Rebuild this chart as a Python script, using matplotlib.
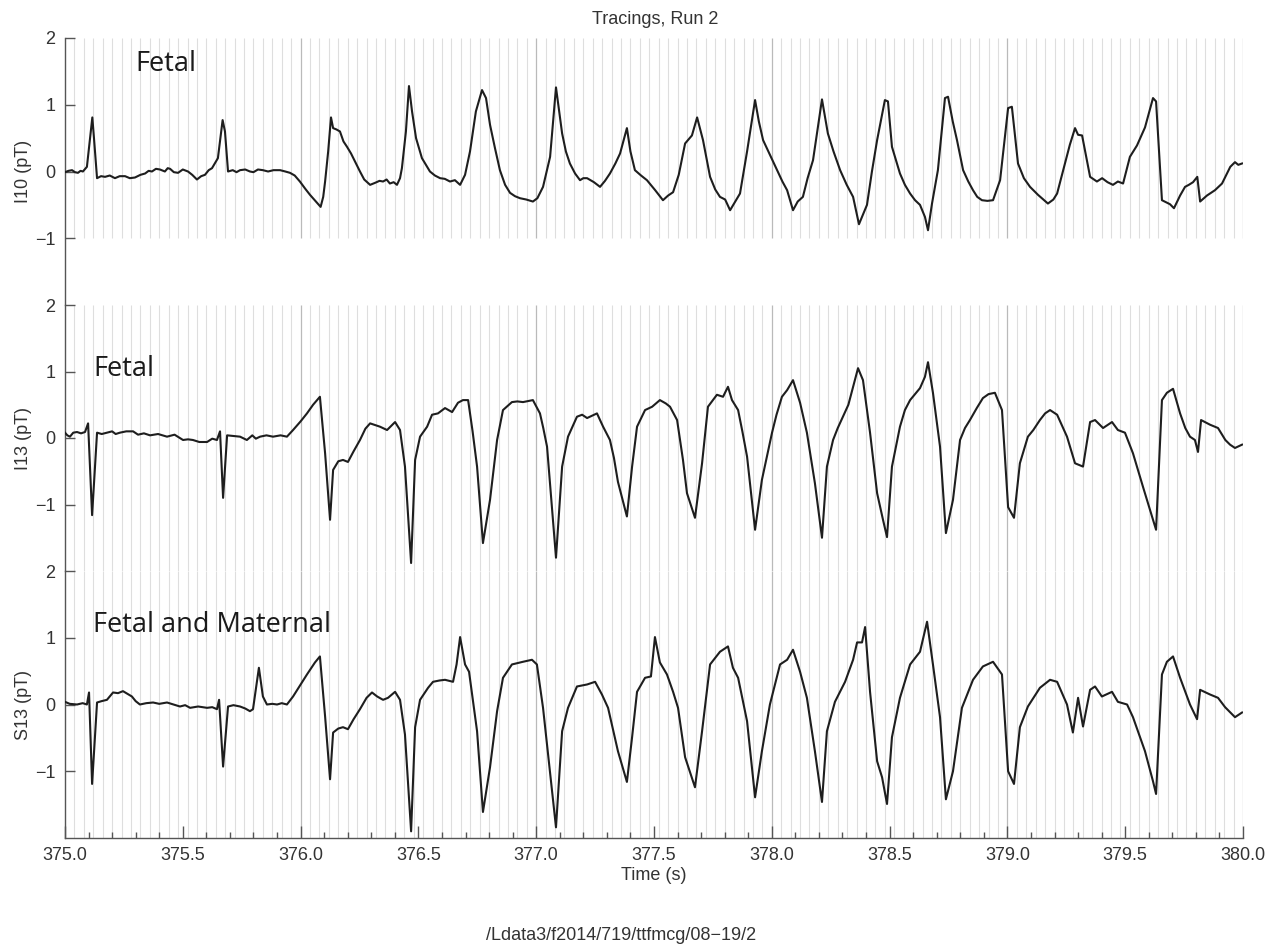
import matplotlib
matplotlib.use("Agg")
import matplotlib.pyplot as plt
from matplotlib.ticker import MultipleLocator, FormatStrFormatter
import numpy as np

plt.rcParams['font.family'] = ['Liberation Sans', 'DejaVu Sans']

# ---------------- data (time in s, field in pT) ----------------
I10_TRACE = [
    (375.000, -0.01), (375.015, 0.01), (375.030, 0.02), (375.042, -0.01), (375.055, -0.02),
    (375.066, 0.01), (375.076, 0.0), (375.086, 0.04), (375.093, 0.07),
    (375.116, 0.81), (375.123, 0.5), (375.136, -0.1), (375.153, -0.07), (375.170, -0.08),
    (375.190, -0.06), (375.212, -0.1), (375.232, -0.07), (375.255, -0.07), (375.275, -0.1),
    (375.297, -0.09), (375.320, -0.05), (375.340, -0.03), (375.355, 0.01), (375.369, 0.0),
    (375.386, 0.04), (375.403, 0.03), (375.424, 0.0), (375.436, 0.05), (375.446, 0.04),
    (375.462, -0.01), (375.480, -0.02), (375.500, 0.03), (375.522, 0.0), (375.540, -0.05),
    (375.560, -0.12), (375.578, -0.07),
    (375.594, -0.05), (375.610, 0.02), (375.624, 0.05), (375.649, 0.2), (375.669, 0.77),
    (375.679, 0.6), (375.692, 0.0), (375.712, 0.02), (375.728, -0.01), (375.743, 0.02),
    (375.765, 0.03), (375.785, 0.0), (375.800, -0.01), (375.819, 0.03), (375.840, 0.02),
    (375.862, 0.0), (375.885, 0.02), (375.913, 0.02), (375.935, 0.0), (375.955, -0.02),
    (375.975, -0.06), (375.997, -0.15), (376.020, -0.26), (376.040, -0.35), (376.065, -0.45),
    (376.085, -0.53), (376.096, -0.38), (376.104, -0.15), (376.117, 0.3), (376.129, 0.81),
    (376.138, 0.65), (376.152, 0.63), (376.167, 0.6), (376.182, 0.45), (376.197, 0.37),
    (376.214, 0.27), (376.231, 0.15), (376.252, 0.0), (376.270, -0.12), (376.295, -0.2),
    (376.316, -0.17), (376.335, -0.14), (376.350, -0.15), (376.365, -0.12), (376.379, -0.18),
    (376.395, -0.16), (376.409, -0.2), (376.422, -0.1), (376.430, 0.05),
    (376.447, 0.6), (376.460, 1.28), (376.473, 0.9), (376.490, 0.5), (376.515, 0.2),
    (376.549, 0.0), (376.570, -0.06), (376.592, -0.1), (376.612, -0.11), (376.634, -0.15),
    (376.655, -0.13), (376.677, -0.2), (376.698, -0.05),
    (376.719, 0.3), (376.744, 0.9), (376.770, 1.22), (376.787, 1.1), (376.804, 0.7),
    (376.825, 0.35), (376.846, 0.02), (376.868, -0.2), (376.889, -0.32), (376.910, -0.37),
    (376.931, -0.4), (376.958, -0.42), (376.986, -0.45), (377.005, -0.4),
    (377.029, -0.23), (377.059, 0.22), (377.084, 1.26), (377.110, 0.57), (377.126, 0.3),
    (377.143, 0.12), (377.165, -0.03),
    (377.186, -0.13), (377.200, -0.1), (377.216, -0.1), (377.245, -0.16), (377.271, -0.23),
    (377.292, -0.14), (377.313, -0.03), (377.336, 0.12), (377.356, 0.27),
    (377.385, 0.65), (377.400, 0.3), (377.419, 0.02), (377.445, -0.06), (377.470, -0.13),
    (377.505, -0.28), (377.538, -0.43), (377.560, -0.36), (377.581, -0.31), (377.605, -0.05),
    (377.632, 0.42), (377.661, 0.54), (377.683, 0.81), (377.708, 0.47), (377.738, -0.08),
    (377.760, -0.27), (377.780, -0.38), (377.802, -0.42), (377.823, -0.58), (377.845, -0.45),
    (377.865, -0.33), (377.895, 0.3), (377.929, 1.07), (377.945, 0.75), (377.963, 0.47),
    (377.992, 0.25), (378.022, 0.02), (378.045, -0.15), (378.065, -0.28), (378.090, -0.58),
    (378.110, -0.45), (378.132, -0.38), (378.152, -0.1), (378.175, 0.17),
    (378.213, 1.08), (378.238, 0.57), (378.262, 0.3), (378.290, 0.02), (378.318, -0.2),
    (378.345, -0.38), (378.370, -0.79),
    (378.404, -0.5), (378.425, 0.0), (378.447, 0.47), (378.480, 1.07), (378.493, 1.05),
    (378.510, 0.37), (378.544, -0.03), (378.565, -0.2), (378.587, -0.33), (378.608, -0.43),
    (378.629, -0.5), (378.650, -0.68), (378.663, -0.88),
    (378.680, -0.48), (378.705, 0.02), (378.735, 1.1), (378.748, 1.12), (378.768, 0.75),
    (378.786, 0.47), (378.812, 0.02), (378.834, -0.15), (378.854, -0.28), (378.872, -0.38),
    (378.892, -0.43), (378.915, -0.44), (378.939, -0.43), (378.969, -0.13),
    (379.003, 0.95), (379.019, 0.97), (379.045, 0.12), (379.070, -0.1), (379.096, -0.23),
    (379.130, -0.35), (379.172, -0.48), (379.195, -0.42),
    (379.211, -0.33), (379.244, 0.12), (379.265, 0.4), (379.287, 0.65), (379.300, 0.55),
    (379.317, 0.54), (379.351, -0.08),
    (379.380, -0.15), (379.402, -0.1), (379.425, -0.16), (379.448, -0.2), (379.469, -0.15),
    (379.491, -0.18), (379.520, 0.22), (379.550, 0.39), (379.584, 0.66), (379.618, 1.1),
    (379.631, 1.05), (379.656, -0.43), (379.690, -0.49), (379.707, -0.55), (379.733, -0.36),
    (379.754, -0.23), (379.770, -0.2), (379.788, -0.16), (379.806, -0.08), (379.818, -0.45),
    (379.847, -0.36), (379.881, -0.28), (379.911, -0.18), (379.946, 0.07), (379.966, 0.14),
    (379.980, 0.1), (379.996, 0.12),
]

I13_TRACE = [
    (375.000, 0.08), (375.010, 0.04), (375.021, 0.02), (375.035, 0.08), (375.051, 0.09),
    (375.068, 0.07), (375.085, 0.09), (375.098, 0.22),
    (375.115, -1.16), (375.136, 0.08), (375.156, 0.06), (375.178, 0.08), (375.200, 0.1),
    (375.215, 0.06), (375.233, 0.08), (375.260, 0.1), (375.289, 0.1), (375.310, 0.05),
    (375.335, 0.07), (375.361, 0.04), (375.395, 0.06), (375.433, 0.02), (375.465, 0.05),
    (375.501, -0.03), (375.522, -0.02), (375.543, -0.03), (375.570, -0.06), (375.603, -0.06),
    (375.625, -0.01), (375.645, -0.03), (375.658, 0.1), (375.671, -0.9), (375.688, 0.04),
    (375.715, 0.03), (375.743, 0.02), (375.760, -0.01), (375.772, -0.03), (375.795, 0.04),
    (375.810, -0.01), (375.828, 0.02), (375.855, 0.04), (375.883, 0.02), (375.915, 0.04),
    (375.942, 0.02), (375.968, 0.12),
    (376.000, 0.25), (376.027, 0.37), (376.053, 0.5), (376.082, 0.62), (376.104, -0.23),
    (376.125, -1.23), (376.138, -0.48), (376.160, -0.35),
    (376.180, -0.33), (376.201, -0.36), (376.225, -0.2), (376.252, -0.03), (376.275, 0.14),
    (376.295, 0.22), (376.337, 0.17), (376.367, 0.12), (376.401, 0.24), (376.422, 0.12),
    (376.443, -0.43), (376.469, -1.88), (376.486, -0.33), (376.507, 0.02), (376.537, 0.17),
    (376.558, 0.35), (376.583, 0.37), (376.613, 0.45), (376.643, 0.39), (376.668, 0.53),
    (376.689, 0.57), (376.711, 0.57), (376.730, 0.1), (376.749, -0.43), (376.774, -1.58),
    (376.804, -0.93), (376.834, -0.03), (376.859, 0.42), (376.897, 0.54), (376.920, 0.55),
    (376.944, 0.54), (376.986, 0.57), (377.016, 0.37), (377.030, 0.15), (377.046, -0.13),
    (377.084, -1.8), (377.110, -0.43), (377.135, 0.02), (377.173, 0.32), (377.195, 0.35),
    (377.216, 0.3), (377.258, 0.37), (377.284, 0.17), (377.313, -0.03), (377.330, -0.3),
    (377.347, -0.66), (377.385, -1.18), (377.407, -0.43), (377.428, 0.17), (377.462, 0.42),
    (377.492, 0.47), (377.525, 0.57), (377.550, 0.52), (377.568, 0.47), (377.598, 0.27),
    (377.623, -0.33), (377.640, -0.83), (377.674, -1.2), (377.704, -0.38), (377.729, 0.47),
    (377.767, 0.65), (377.793, 0.62), (377.814, 0.77), (377.831, 0.57), (377.857, 0.42),
    (377.875, 0.1), (377.895, -0.28), (377.929, -1.38), (377.958, -0.63), (378.001, 0.08),
    (378.020, 0.35), (378.043, 0.62), (378.065, 0.72), (378.090, 0.87), (378.120, 0.53),
    (378.149, 0.08), (378.183, -0.68), (378.213, -1.5), (378.234, -0.43), (378.260, -0.03),
    (378.280, 0.15), (378.302, 0.32), (378.325, 0.5), (378.345, 0.77), (378.366, 1.05),
    (378.387, 0.87), (378.417, 0.08), (378.447, -0.83), (378.472, -1.23), (378.489, -1.49),
    (378.510, -0.43), (378.544, 0.17), (378.565, 0.42), (378.587, 0.57), (378.629, 0.75),
    (378.650, 0.92), (378.663, 1.14), (378.684, 0.68), (378.714, -0.13), (378.739, -1.43),
    (378.769, -0.93), (378.799, -0.03), (378.820, 0.15), (378.841, 0.27), (378.870, 0.45),
    (378.896, 0.6), (378.920, 0.66), (378.947, 0.68), (378.977, 0.42), (379.003, -1.04),
    (379.028, -1.2), (379.053, -0.38), (379.087, 0.02), (379.110, 0.12), (379.138, 0.27),
    (379.160, 0.37), (379.181, 0.42), (379.211, 0.35), (379.253, 0.02), (379.287, -0.38),
    (379.321, -0.43), (379.351, 0.24), (379.372, 0.27), (379.406, 0.15), (379.444, 0.24),
    (379.469, 0.12), (379.499, 0.08), (379.533, -0.23), (379.576, -0.74), (379.618, -1.23),
    (379.631, -1.38), (379.656, 0.57), (379.677, 0.68), (379.703, 0.74), (379.733, 0.37),
    (379.755, 0.15), (379.775, 0.02), (379.796, -0.03), (379.809, -0.21), (379.822, 0.27),
    (379.860, 0.2), (379.894, 0.15), (379.925, -0.03), (379.945, -0.1), (379.966, -0.15),
    (379.996, -0.1),
]

S13_TRACE = [
    (375.000, 0.04), (375.020, 0.01), (375.051, 0.0), (375.075, 0.02), (375.093, 0.0),
    (375.102, 0.18), (375.115, -1.19),
    (375.136, 0.03), (375.155, 0.05), (375.178, 0.07), (375.204, 0.18), (375.225, 0.17),
    (375.246, 0.2), (375.265, 0.16), (375.284, 0.12), (375.300, 0.05),
    (375.318, 0.0), (375.345, 0.02), (375.374, 0.03), (375.400, 0.01), (375.433, 0.03),
    (375.460, 0.0), (375.488, -0.03), (375.510, -0.01), (375.531, -0.05), (375.565, -0.03),
    (375.603, -0.05), (375.625, -0.04), (375.645, -0.07), (375.654, 0.07), (375.671, -0.93),
    (375.692, -0.03), (375.715, -0.01), (375.743, -0.03), (375.765, -0.06), (375.785, -0.1),
    (375.798, -0.07), (375.823, 0.55), (375.840, 0.12), (375.857, 0.0), (375.880, 0.01),
    (375.900, 0.0), (375.920, 0.02), (375.942, 0.0), (375.968, 0.12),
    (376.000, 0.3), (376.027, 0.45), (376.061, 0.63), (376.082, 0.72), (376.104, -0.18),
    (376.125, -1.12), (376.138, -0.42), (376.160, -0.36),
    (376.180, -0.34), (376.201, -0.37), (376.225, -0.22), (376.252, -0.07), (376.280, 0.1),
    (376.303, 0.18), (376.325, 0.12), (376.350, 0.07), (376.371, 0.1), (376.401, 0.19),
    (376.422, 0.07), (376.443, -0.45), (376.469, -1.9),
    (376.486, -0.34), (376.507, 0.07), (376.541, 0.25), (376.562, 0.34), (376.590, 0.36),
    (376.613, 0.37), (376.647, 0.34), (376.662, 0.6), (376.677, 1.01), (376.698, 0.6),
    (376.715, 0.49), (376.730, 0.1), (376.749, -0.4),
    (376.774, -1.61), (376.804, -0.94), (376.834, -0.1), (376.859, 0.4), (376.897, 0.6),
    (376.944, 0.64), (376.982, 0.67), (377.003, 0.6), (377.029, -0.05), (377.084, -1.84),
    (377.110, -0.4), (377.135, -0.05), (377.173, 0.27), (377.216, 0.3), (377.250, 0.34),
    (377.279, 0.15), (377.305, -0.05), (377.347, -0.7), (377.385, -1.16), (377.407, -0.49),
    (377.428, 0.19), (377.462, 0.4), (377.487, 0.42), (377.504, 1.01), (377.525, 0.63),
    (377.555, 0.45), (377.581, 0.19), (377.602, -0.05), (377.632, -0.79), (377.674, -1.24),
    (377.704, -0.4), (377.738, 0.6), (377.780, 0.79), (377.814, 0.87), (377.835, 0.55),
    (377.857, 0.4), (377.895, -0.25), (377.929, -1.39), (377.958, -0.7), (377.992, 0.0),
    (378.035, 0.6), (378.065, 0.67), (378.090, 0.82), (378.120, 0.49), (378.149, 0.1),
    (378.183, -0.7), (378.213, -1.46), (378.234, -0.4), (378.268, 0.04), (378.311, 0.34),
    (378.345, 0.67), (378.362, 0.93), (378.383, 0.93), (378.396, 1.16), (378.417, 0.19),
    (378.447, -0.85), (378.468, -1.09), (378.489, -1.49), (378.510, -0.49), (378.544, 0.1),
    (378.587, 0.6), (378.629, 0.79), (378.659, 1.24), (378.684, 0.6), (378.714, -0.19),
    (378.739, -1.42), (378.769, -1.0), (378.807, -0.05), (378.854, 0.37), (378.896, 0.57),
    (378.939, 0.64), (378.977, 0.45), (379.003, -1.0), (379.028, -1.19), (379.053, -0.34),
    (379.087, -0.03), (379.138, 0.25), (379.181, 0.37), (379.211, 0.34), (379.253, 0.0),
    (379.278, -0.42), (379.300, 0.1), (379.321, -0.33), (379.351, 0.22), (379.372, 0.27),
    (379.401, 0.12), (379.444, 0.19), (379.469, 0.04), (379.508, 0.0), (379.533, -0.19),
    (379.584, -0.7), (379.618, -1.15), (379.631, -1.34), (379.656, 0.45), (379.677, 0.64),
    (379.703, 0.72), (379.733, 0.4), (379.775, 0.0), (379.805, -0.22), (379.818, 0.22),
    (379.860, 0.15), (379.894, 0.1), (379.924, -0.04), (379.966, -0.19), (379.996, -0.12),
]

CHANNEL_LABELS = ["I10 (pT)", "I13 (pT)", "S13 (pT)"]
ANNOTATIONS = ["Fetal", "Fetal", "Fetal and Maternal"]
ANNOT_POS = [(375.297, 1.61), (375.119, 1.04), (375.119, 1.19)]
Y_TICKS = [-1, 0, 1, 2]
TITLE = "Tracings, Run 2"
XLABEL = "Time (s)"
FOOTER = "/Ldata3/f2014/719/ttfmcg/08\u221219/2"
T_START, T_END = 375.0, 380.0
GRID_STEP = 0.04

# ---------------- layout ----------------
W, H = 1282, 948
fig = plt.figure(figsize=(W / 100, H / 100), dpi=100)

def fx(px):
    return px / W

def fy(py):
    return 1 - py / H

x0, x1 = 65, 1243
bands = [(38, 305), (305, 571), (571, 838)]
traces = [I10_TRACE, I13_TRACE, S13_TRACE]
grid_lo = [-1, -2, -2]

spine_c = "#555555"
text_c = "#333333"
grid_t = np.arange(1, int(round((T_END - T_START) / GRID_STEP)) + 1) * GRID_STEP + T_START

axes = []
for i, ((ytop, ybot), tr) in enumerate(zip(bands, traces)):
    ax = fig.add_axes([fx(x0), fy(ybot), fx(x1) - fx(x0), (ybot - ytop) / H])
    ax.set_xlim(T_START, T_END)
    ax.set_ylim(-2, 2)
    for s in ("top", "right"):
        ax.spines[s].set_visible(False)
    ax.spines["left"].set_color(spine_c)
    ax.spines["left"].set_linewidth(1.0)
    if i < 2:
        ax.spines["bottom"].set_visible(False)
        ax.tick_params(axis="x", bottom=False, labelbottom=False, which="both")
    else:
        ax.spines["bottom"].set_color(spine_c)
        ax.spines["bottom"].set_linewidth(1.0)

    # vertical grid
    light = [g for g in grid_t if abs(g - round(g)) > 1e-6]
    dark = [g for g in grid_t if abs(g - round(g)) <= 1e-6]
    ax.vlines(light, grid_lo[i], 2, color="#dedede", lw=0.8, zorder=1)
    ax.vlines(dark, grid_lo[i], 2, color="#bababa", lw=0.9, zorder=1)

    t = [p[0] for p in tr]
    v = [p[1] for p in tr]
    ax.plot(t, v, color="#1e1e1e", lw=1.5, zorder=3, solid_joinstyle="round")

    ax.set_yticks(Y_TICKS)
    ax.tick_params(axis="y", direction="in", length=7, width=1.0, color=spine_c,
                   labelsize=13, labelcolor=text_c, pad=7)
    ax.set_ylabel(CHANNEL_LABELS[i], fontsize=13, color=text_c)
    ax.yaxis.set_label_coords((32 - x0) / (x1 - x0), 0.5)

    at, av = ANNOT_POS[i]
    ax.text(at, av, ANNOTATIONS[i], family=["Open Sans", "DejaVu Sans"], fontsize=19.5,
            color="#1a1a1a", ha="left", va="center", zorder=4)
    axes.append(ax)

axb = axes[-1]
axb.xaxis.set_major_locator(MultipleLocator(0.5))
axb.xaxis.set_minor_locator(MultipleLocator(0.1))
axb.xaxis.set_major_formatter(FormatStrFormatter("%.1f"))
axb.tick_params(axis="x", which="major", direction="in", length=9, width=1.0,
                color=spine_c, labelsize=13, labelcolor=text_c, pad=6.5)
axb.tick_params(axis="x", which="minor", direction="in", length=4.5, width=1.0,
                color=spine_c)

fig.text(fx(655), fy(19), TITLE, ha="center", va="center", fontsize=13, color=text_c)
fig.text(fx(654), fy(876), XLABEL, ha="center", va="center", fontsize=13, color=text_c)
fig.text(fx(621), fy(936), FOOTER, ha="center", va="center", fontsize=13, color=text_c)

fig.savefig("out.png", dpi=100, facecolor="white")
